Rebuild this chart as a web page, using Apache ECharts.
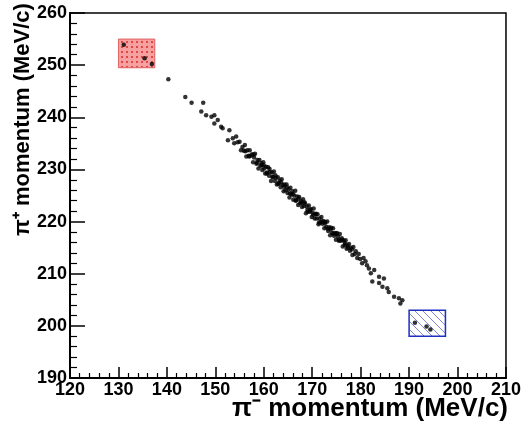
<!DOCTYPE html>
<html>
<head>
<meta charset="utf-8">
<script src="https://cdn.jsdelivr.net/npm/echarts@6/dist/echarts.min.js"></script>
<style>
  html, body { margin: 0; padding: 0; background: #fff; }
  #chart { width: 524px; height: 425px; }
</style>
</head>
<body>
<div id="chart"></div>
<script>
// pi- momentum, pi+ momentum (MeV/c)
const events = [
  [140.3, 247.3], [143.8, 243.9], [145.1, 242.8], [147.5, 242.8], [147.1, 241.1],
  [148.1, 240.4], [149.2, 240.1], [149.8, 240.4], [150.5, 239.5], [149.8, 238.8],
  [151.2, 238.2], [151.5, 237.9], [152.9, 237.5], [152.6, 235.6], [153.6, 236.0],
  [154.3, 236.3], [153.9, 235.0], [154.6, 235.2],
  [155.0, 235.3], [155.3, 233.7], [155.6, 234.3], [155.9, 233.6], [156.1, 234.7],
  [156.4, 232.5], [156.6, 233.7], [156.9, 232.6], [157.1, 233.7], [157.3, 232.6],
  [157.6, 232.9], [157.8, 231.4], [158.0, 232.3], [158.2, 233.0], [158.5, 231.1],
  [158.7, 231.8], [158.9, 230.2], [159.1, 231.8], [159.3, 230.7], [159.5, 231.2],
  [159.7, 229.9], [159.9, 231.4], [160.1, 230.2], [160.3, 229.2], [160.5, 230.5],
  [160.7, 229.4], [160.9, 230.4], [161.1, 228.8], [161.3, 229.5], [161.5, 227.8],
  [161.7, 229.4], [161.9, 228.6], [162.1, 229.6], [162.3, 227.8], [162.5, 228.4],
  [162.7, 227.1], [162.9, 228.5], [163.1, 227.4], [163.3, 227.9], [163.5, 226.6],
  [163.7, 228.1], [163.9, 227.0], [164.1, 225.8], [164.3, 227.1], [164.5, 226.0],
  [164.7, 227.1], [164.9, 225.5], [165.1, 226.2], [165.3, 224.6], [165.5, 226.5],
  [165.7, 225.2], [165.9, 225.8], [166.1, 224.2], [166.3, 225.0], [166.5, 225.9],
  [166.7, 224.1], [166.9, 224.8], [167.1, 223.2], [167.3, 224.7], [167.5, 223.5],
  [167.7, 223.9], [167.9, 222.8], [168.1, 224.3], [168.3, 223.0], [168.5, 223.5],
  [168.7, 221.6], [168.9, 222.9], [169.1, 221.9], [169.3, 223.1], [169.5, 221.9],
  [169.7, 222.4], [169.9, 220.9], [170.1, 221.7], [170.3, 222.5], [170.5, 220.6],
  [170.7, 221.4], [170.9, 220.6], [171.1, 221.4], [171.3, 219.5], [171.5, 220.6],
  [171.7, 219.8], [171.9, 220.9], [172.1, 219.6], [172.3, 220.1], [172.5, 218.7],
  [172.7, 219.9], [172.9, 219.0], [173.1, 220.0], [173.3, 218.2], [173.5, 218.9],
  [173.7, 217.4], [173.9, 218.8], [174.1, 217.8], [174.3, 218.7], [174.5, 217.3],
  [174.7, 217.8], [174.9, 216.5], [175.1, 217.8], [175.3, 217.1], [175.5, 216.3],
  [175.7, 217.6], [175.9, 216.3], [176.1, 216.8], [176.3, 215.2], [176.5, 216.3],
  [176.7, 215.5], [176.9, 216.4], [177.1, 214.8], [177.3, 215.4], [177.6, 215.7],
  [177.8, 214.4], [178.0, 215.0], [178.3, 213.6], [178.5, 215.1], [178.8, 213.8],
  [179.0, 214.3], [179.3, 213.0], [179.6, 213.8], [179.9, 212.8],
  [156.2, 233.5], [157.0, 232.5], [157.9, 232.8], [158.6, 231.3], [159.6, 230.8],
  [160.0, 230.8], [160.6, 229.2], [161.2, 230.1], [161.8, 228.5], [162.4, 228.9],
  [163.0, 227.2], [163.6, 227.5], [164.2, 226.7], [164.8, 226.6], [165.4, 225.4],
  [166.0, 225.3], [166.6, 224.0], [167.2, 224.4], [167.8, 223.6], [168.4, 223.7],
  [169.0, 222.2], [169.6, 222.2], [170.2, 221.3], [170.8, 221.5], [171.4, 219.8],
  [172.0, 220.0], [172.6, 219.7], [173.2, 218.6], [173.8, 218.5], [174.4, 217.7],
  [175.0, 217.6], [175.6, 216.5], [176.2, 216.5], [176.8, 215.8], [177.4, 215.0],
  [178.2, 214.7],
  [180.3, 212.0], [181.0, 212.4], [181.7, 211.0], [182.1, 210.1], [182.8, 210.7],
  [183.8, 209.4], [182.4, 208.5], [183.8, 208.2], [184.8, 209.1], [184.5, 207.5],
  [185.5, 207.2], [185.8, 206.5], [186.9, 205.6], [187.9, 205.3], [188.6, 204.9],
  [188.2, 204.3], [180.6, 213.0], [181.3, 211.6],
  // inside the boxes
  [131.1, 253.9], [135.4, 251.3], [136.9, 250.2],
  [191.2, 200.6], [193.6, 199.9], [194.4, 199.3]
];

// signal boxes: [x1, y1, x2, y2]
const redBox = [130, 249.5, 137.5, 255];
const blueBox = [190, 198, 197.5, 203];

const xTicks = [120, 210, 10];
const yTicks = [190, 260, 10];

function makePattern(type) {
  const c = document.createElement('canvas');
  const ctx = c.getContext('2d');
  if (type === 'red') {
    c.width = 5; c.height = 5;
    ctx.fillStyle = '#f6a0a0';
    ctx.fillRect(0, 0, 5, 5);
    ctx.fillStyle = '#e04848';
    ctx.fillRect(1, 1, 2, 2);
  } else {
    c.width = 8; c.height = 8;
    ctx.fillStyle = '#ffffff';
    ctx.fillRect(0, 0, 8, 8);
    ctx.strokeStyle = '#7f88dd';
    ctx.lineWidth = 1;
    ctx.beginPath();
    ctx.moveTo(0, 0); ctx.lineTo(8, 8);
    ctx.moveTo(-4, 4); ctx.lineTo(4, 12);
    ctx.moveTo(4, -4); ctx.lineTo(12, 4);
    ctx.stroke();
  }
  return { image: c, repeat: 'repeat' };
}

const chart = echarts.init(document.getElementById('chart'));

const labelFont = { color: '#000', fontSize: 18, fontWeight: 'bold', fontFamily: 'Liberation Sans' };

const option = {
  animation: false,
  grid: {
    left: 70, right: 17, top: 13, bottom: 47,
    show: true, borderColor: '#000', borderWidth: 1.5, backgroundColor: '#fff'
  },
  xAxis: {
    type: 'value',
    min: xTicks[0], max: xTicks[1], interval: xTicks[2],
    axisLine: { lineStyle: { color: '#000', width: 2 } },
    axisTick: { inside: true, length: 11, lineStyle: { color: '#000', width: 1.5 } },
    minorTick: { show: true, splitNumber: 5, length: 5, lineStyle: { color: '#000', width: 1.2 } },
    splitLine: { show: false },
    axisLabel: Object.assign({ margin: 3 }, labelFont)
  },
  yAxis: {
    type: 'value',
    min: yTicks[0], max: yTicks[1], interval: yTicks[2],
    axisLine: { lineStyle: { color: '#000', width: 2 } },
    axisTick: { inside: true, length: 15, lineStyle: { color: '#000', width: 1.5 } },
    minorTick: { show: true, splitNumber: 5, length: 7, lineStyle: { color: '#000', width: 1.2 } },
    splitLine: { show: false },
    axisLabel: Object.assign({ margin: 3 }, labelFont)
  },
  graphic: [
    {
      type: 'text', right: 16, top: 396,
      style: { text: 'π⁻ momentum (MeV/c)', fill: '#000', font: 'bold 26px "Liberation Sans"' }
    },
    {
      type: 'text', rotation: Math.PI / 2, originX: 0, originY: 0,
      x: 12, y: 236,
      style: { text: 'π⁺ momentum (MeV/c)', fill: '#000', font: 'bold 22px "Liberation Sans"' }
    }
  ],
  series: [
    {
      type: 'scatter',
      data: [],
      markArea: {
        silent: true,
        data: [
          [{ coord: [redBox[0], redBox[1]], itemStyle: { color: makePattern('red'), borderColor: '#e06060', borderWidth: 1 } },
           { coord: [redBox[2], redBox[3]] }],
          [{ coord: [blueBox[0], blueBox[1]], itemStyle: { color: makePattern('blue'), borderColor: '#1f2fbf', borderWidth: 1.5 } },
           { coord: [blueBox[2], blueBox[3]] }]
        ]
      }
    },
    {
      type: 'scatter',
      data: events,
      symbolSize: 4.5,
      z: 5,
      itemStyle: { color: '#000' }
    }
  ]
};

chart.setOption(option);
</script>
</body>
</html>
